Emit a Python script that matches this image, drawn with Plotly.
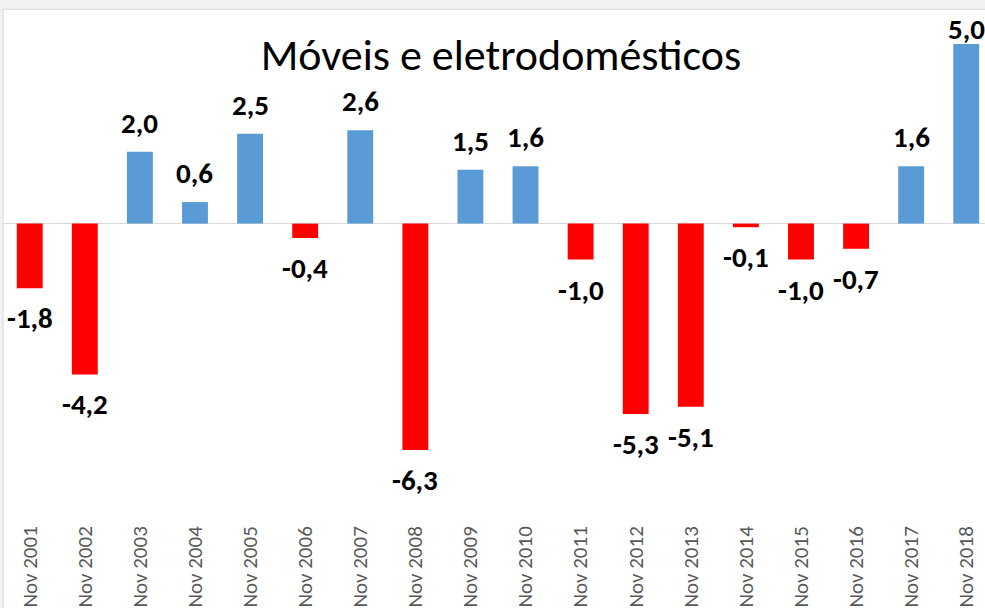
import plotly.graph_objects as go

categories = ["Nov 2001", "Nov 2002", "Nov 2003", "Nov 2004", "Nov 2005", "Nov 2006",
              "Nov 2007", "Nov 2008", "Nov 2009", "Nov 2010", "Nov 2011", "Nov 2012",
              "Nov 2013", "Nov 2014", "Nov 2015", "Nov 2016", "Nov 2017", "Nov 2018"]
values = [-1.8, -4.2, 2.0, 0.6, 2.5, -0.4, 2.6, -6.3, 1.5, 1.6, -1.0, -5.3,
          -5.1, -0.1, -1.0, -0.7, 1.6, 5.0]
title_text = "Móveis e eletrodomésticos"

BLUE = "#5B9BD5"
RED = "#FF0000"
FONT = "Carlito, Lato, sans-serif"

W, H = 985, 608
ML, MR, MT, MB = 3, 0, 44, 94
YMIN, YMAX = -8, 5
plot_h = H - MT - MB
scale = plot_h / (YMAX - YMIN)
border_px = 9

colors = [BLUE if v >= 0 else RED for v in values]

fig = go.Figure()
fig.add_trace(go.Bar(
    x=list(range(len(categories))), y=values, marker_color=colors,
    marker_line_width=0, width=0.47, hoverinfo="skip",
))

def fmt(v):
    return f"{v:.1f}".replace(".", ",")

label_size = 29
box_h = 40
annotations = []
for i, v in enumerate(values):
    if v >= 0:
        shift = 9
        bar_top_px = MT + (YMAX - v) * scale
        if bar_top_px - shift - box_h < border_px:
            shift = bar_top_px - box_h - border_px
        annotations.append(dict(x=i, y=v, xref="x", yref="y", text=fmt(v),
                                showarrow=False, yanchor="bottom", yshift=shift,
                                font=dict(family=FONT, size=label_size, color="#000000", weight="bold")))
    else:
        annotations.append(dict(x=i, y=v, xref="x", yref="y", text=fmt(v),
                                showarrow=False, yanchor="top", yshift=-10,
                                font=dict(family=FONT, size=label_size, color="#000000", weight="bold")))

plot_w = W - ML - MR
band = 55.09
r0 = -0.485
r1 = r0 + plot_w / band

fig.update_layout(
    width=W, height=H,
    margin=dict(l=ML, r=MR, t=MT, b=MB),
    paper_bgcolor="#F2F2F2",
    plot_bgcolor="rgba(0,0,0,0)",
    showlegend=False,
    title=dict(text=title_text, x=501 / W, xref="container", xanchor="center",
               y=1 - 55 / H, yref="container", yanchor="middle",
               font=dict(family=FONT, size=44, color="#000000")),
    xaxis=dict(range=[r0, r1], tickmode="array", tickvals=list(range(len(categories))),
               ticktext=categories, tickangle=-90, showgrid=False, zeroline=False,
               showline=False, ticks="", ticklabelstandoff=10,
               tickfont=dict(family=FONT, size=21, color="#595959")),
    yaxis=dict(range=[YMIN, YMAX], showgrid=False, showticklabels=False,
               zeroline=True, zerolinecolor="#D9D9D9", zerolinewidth=1, showline=False),
    annotations=annotations,
    shapes=[dict(type="rect", xref="paper", yref="paper", layer="below",
                 x0=0, x1=1.05, y0=-0.5, y1=(H - MB - border_px) / plot_h,
                 fillcolor="#FFFFFF", line=dict(color="#D9D9D9", width=1))],
)

fig.write_html("out.html", config={"displayModeBar": False},
               post_script="document.body.style.margin='0';document.body.style.overflow='hidden';")
